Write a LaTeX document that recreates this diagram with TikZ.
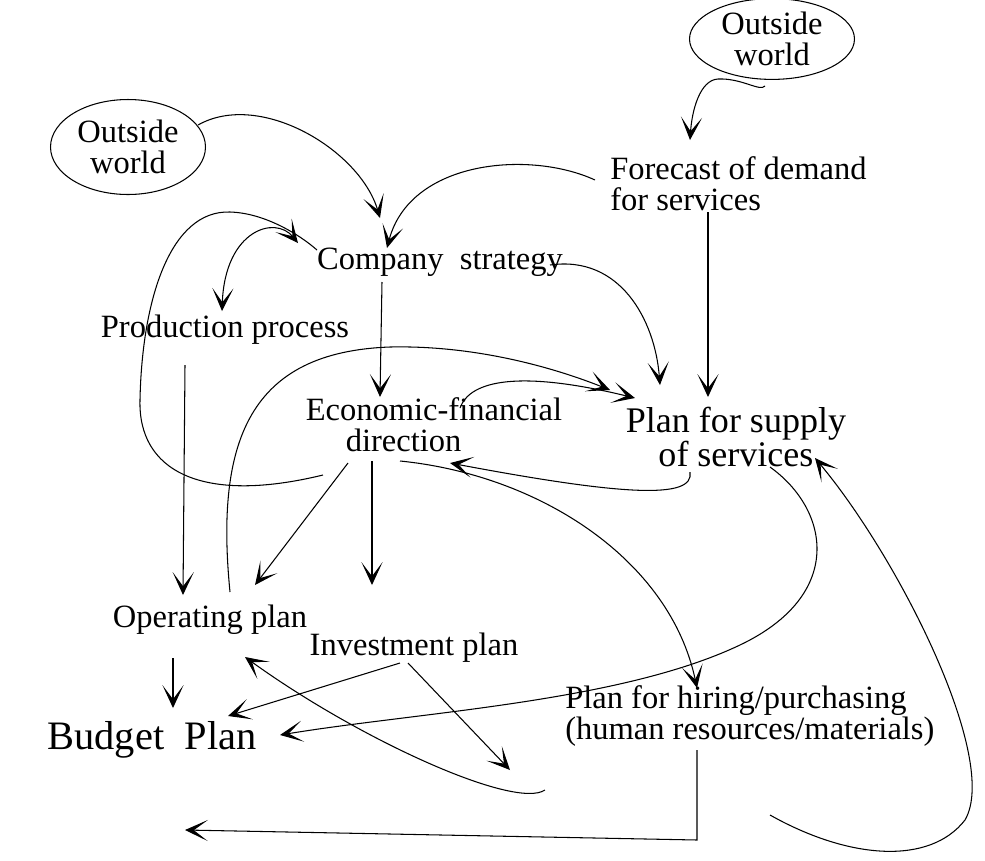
\documentclass[tikz,border=0pt]{standalone}
\usepackage{fontspec}
\setmainfont{Liberation Serif}
\usetikzlibrary{arrows.meta,shapes.geometric,calc}

\tikzset{
  lbl/.style={font=\fontsize{18.5}{17.5}\selectfont, inner sep=1pt},
  cloud/.style={lbl, ellipse, draw, align=center},
}

\begin{document}
\begin{tikzpicture}[x=0.02cm,y=-0.02cm,line width=0.6pt,
  >={Stealth[length=13pt,width=12pt,inset=8pt]}]
\useasboundingbox (0,0) rectangle (985,860);
% the boxes of text
\node[cloud, minimum width=3.1cm, minimum height=1.9cm] (ow1) at (128,147) {Outside\\world};
\node[cloud, minimum width=3.3cm, minimum height=1.55cm] (ow2) at (772,39) {Outside\\world};
\node[lbl, anchor=west, align=left] (fc) at (608,184) {Forecast of demand\\for services};
\node[lbl] (cs) at (440,262) {Company\ \ strategy};
\node[lbl] (pp) at (225,330) {Production process};
\node[lbl, align=left] (ef) at (434,425) {Economic-financial\\\hspace*{0.8cm}direction};
\node[lbl, font=\fontsize{20.5}{17.5}\selectfont, align=center] (ps) at (736,437) {Plan for supply\\of services};
\node[lbl] (op) at (210,620) {Operating plan};
\node[lbl] (ip) at (414,648) {Investment plan};
\node[lbl, font=\fontsize{23}{24}\selectfont] (bp) at (152,740) {Budget\ \ Plan};
\node[lbl, anchor=west, align=left] (hp) at (563,716) {Plan for hiring/purchasing\\(human resources/materials)};
% top part
\draw[->] ($(ow1)+(70,-22)$) .. controls (260,90) and (360,150) .. ($(cs)+(-60,-44)$);
\draw[->] ($(fc.west)+(-13,-4)$) .. controls (530,150) and (410,160) .. ($(cs)+(-53,-14)$);
\draw[->] ($(ow2)+(-7,47)$) .. controls (760,92) and (742,78) .. (718,79)
  .. controls (700,80) and (692,110) .. ($(fc.west)+(82,-44)$);
\draw[->] ($(fc.west)+(100,28)$) -- ($(ps)+(-28,-40)$);
\draw[->] ($(cs)+(110,3)$) .. controls (620,255) and (655,320) .. ($(ps)+(-76,-52)$);
\draw[->] ($(cs)+(-58,20)$) -- ($(ef)+(-54,-28)$);
\draw ($(ef)+(-111,50)$) .. controls (200,505) and (138,470) .. (140,400)
  .. controls (142,300) and (170,210) .. (230,212)
  .. controls (265,213) and (300,235) .. ($(cs)+(-123,-12)$);
\draw[<->] ($(pp)+(-3,-19)$) .. controls (225,230) and (275,215) .. ($(cs)+(-142,-19)$);
% middle part
\draw[->] ($(pp)+(-40,35)$) -- ($(op)+(-27,-25)$);
\draw[->] ($(op)+(20,-28)$) .. controls (215,440) and (250,352) .. (390,347)
  .. controls (480,345) and (560,370) .. ($(ps)+(-126,-47)$);
\draw[->] ($(ef)+(26,-17)$) .. controls (470,380) and (520,370) .. ($(ps)+(-101,-39)$);
\draw[->] ($(ps)+(-46,35)$) .. controls (695,500) and (620,495) .. ($(ef)+(16,38)$);
\draw[->] ($(ef)+(-86,38)$) -- ($(op)+(45,-35)$);
\draw[->] ($(ef)+(-62,36)$) -- ($(ip)+(-42,-63)$);
\draw[->] ($(ef)+(-34,36)$) .. controls (540,475) and (670,560) .. ($(hp.west)+(134,-28)$);
\draw[->] ($(ps)+(34,30)$) .. controls (830,510) and (845,595) .. (740,645)
  .. controls (620,702) and (420,712) .. ($(bp)+(128,-5)$);
% bottom part
\draw[->] ($(ip)+(-14,15)$) -- ($(bp)+(76,-24)$);
\draw[->] ($(ip)+(-6,15)$) -- ($(hp.west)+(-53,54)$);
\draw[->] ($(hp.west)+(-18,74)$) .. controls (515,810) and (360,740) .. ($(op)+(35,37)$);
\draw[->] ($(op)+(-37,38)$) -- ($(bp)+(21,-32)$);
\draw[->] ($(hp.west)+(134,34)$) -- ($(hp.west)+(134,124)$) -- ($(bp)+(33,90)$);
\draw[->] ($(hp.west)+(207,99)$) .. controls (850,860) and (930,865) .. (965,820)
  .. controls (1000,760) and (900,560) .. ($(ps)+(79,21)$);
\end{tikzpicture}
\end{document}
